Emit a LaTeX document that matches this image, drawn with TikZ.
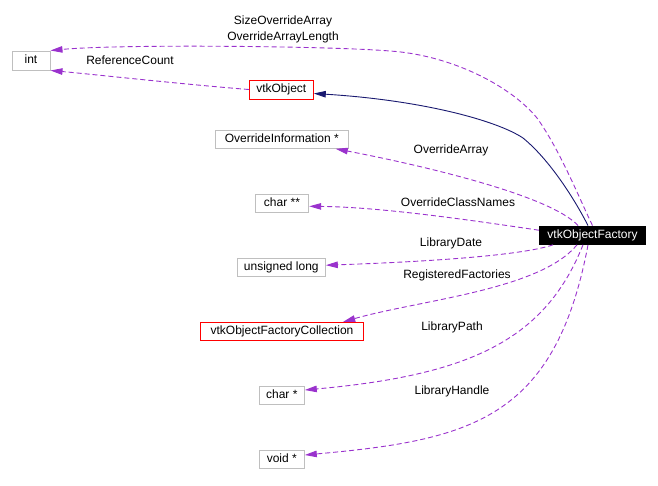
\documentclass[tikz,border=0pt]{standalone}
\usepackage{fontspec}
\setmainfont{Liberation Sans}
\usetikzlibrary{arrows.meta}
\definecolor{edgepurple}{HTML}{9A32CD}
\definecolor{edgenavy}{HTML}{191970}
\definecolor{boxgray}{HTML}{BFBFBF}
\definecolor{boxred}{HTML}{FF0000}
\tikzset{
  box/.style={draw=boxgray, line width=1pt, inner sep=0pt, minimum height=18pt,
    font=\fontsize{12}{14}\selectfont, text height=8.7pt, text depth=2.4pt},
  redbox/.style={box, draw=boxred},
  mainbox/.style={box, fill=black, draw=black, text=white},
  lbl/.style={font=\fontsize{12}{14}\selectfont, inner sep=0pt, text height=8.7pt, text depth=2.4pt},
  member/.style={draw=edgepurple, line width=0.9pt, dash pattern=on 5pt off 3pt,
    -{Triangle[length=12pt,width=6.5pt]}},
  inherit/.style={draw=edgenavy, line width=0.9pt, -{Triangle[length=12pt,width=6.5pt]}}
}
\begin{document}
\begin{tikzpicture}[x=1pt,y=-1pt]
\useasboundingbox (0,0) rectangle (658,485);
% nodes
\node[box, minimum width=38pt, minimum height=19pt] (int) at (31,60.5) {int};
\node[redbox, draw=boxred, minimum width=64pt, minimum height=19pt] (vo) at (281.3,89.5) {vtkObject};
\node[box, minimum width=133pt] (oi) at (281.8,139.3) {OverrideInformation *};
\node[box, minimum width=53.4pt] (c2) at (282,203.3) {char **};
\node[box, minimum width=88pt] (ul) at (281.3,267.2) {unsigned long};
\node[redbox, minimum width=163.4pt] (vofc) at (282,331.3) {vtkObjectFactoryCollection};
\node[box, minimum width=45pt] (c1) at (281.8,395.5) {char *};
\node[box, minimum width=45pt] (vp) at (281.8,459) {void *};
\node[mainbox, minimum width=106.4pt, minimum height=18.3pt] (vof) at (592.5,235.2) {vtkObjectFactory};
% edges
\draw[inherit] ([xshift=-4.5pt]vof.north) .. controls (575,200) and (550,160) .. (523,138)
   .. controls (496,120) and (420,100) .. ([yshift=-4pt]vo.east);
\draw[member] (vof.north) .. controls (580,200) and (560,150) .. (537,118)
   .. controls (510,85) and (450,55) .. (390,51)
   .. controls (330,46) and (120,44) .. (int.north east);
\draw[member] (vo.west) .. controls (180,84) and (90,74) .. (int.south east);
\draw[member] ([xshift=-14.5pt]vof.north) .. controls (550,195) and (420,165) .. ([xshift=-13pt]oi.south east);
\draw[member] ([yshift=5pt]vof.west) .. controls (470,220) and (380,207) .. ([yshift=-3pt]c2.east);
\draw[member] ([xshift=-39.5pt]vof.south) .. controls (520,256) and (420,262) .. ([yshift=2pt]ul.east);
\draw[member] ([xshift=-15.5pt]vof.south) .. controls (540,290) and (420,300) .. ([xshift=-21pt]vofc.north east);
\draw[member] ([xshift=-9.5pt]vof.south) .. controls (545,340) and (470,375) .. ([yshift=5.5pt]c1.east);
\draw[member] ([xshift=-4.5pt]vof.south) .. controls (555,420) and (470,440) .. ([yshift=4pt]vp.east);
% labels
\node[lbl] (l1) at (283,21.7) {SizeOverrideArray};
\node[lbl] (l2) at (283,37.7) {OverrideArrayLength};
\node[lbl] (l3) at (130,61.7) {ReferenceCount};
\node[lbl] (l4) at (451,150) {OverrideArray};
\node[lbl] (l5) at (458,203) {OverrideClassNames};
\node[lbl] (l6) at (451,243) {LibraryDate};
\node[lbl] (l7) at (457,275) {RegisteredFactories};
\node[lbl] (l8) at (452,327) {LibraryPath};
\node[lbl] (l9) at (452,391) {LibraryHandle};
\end{tikzpicture}
\end{document}
